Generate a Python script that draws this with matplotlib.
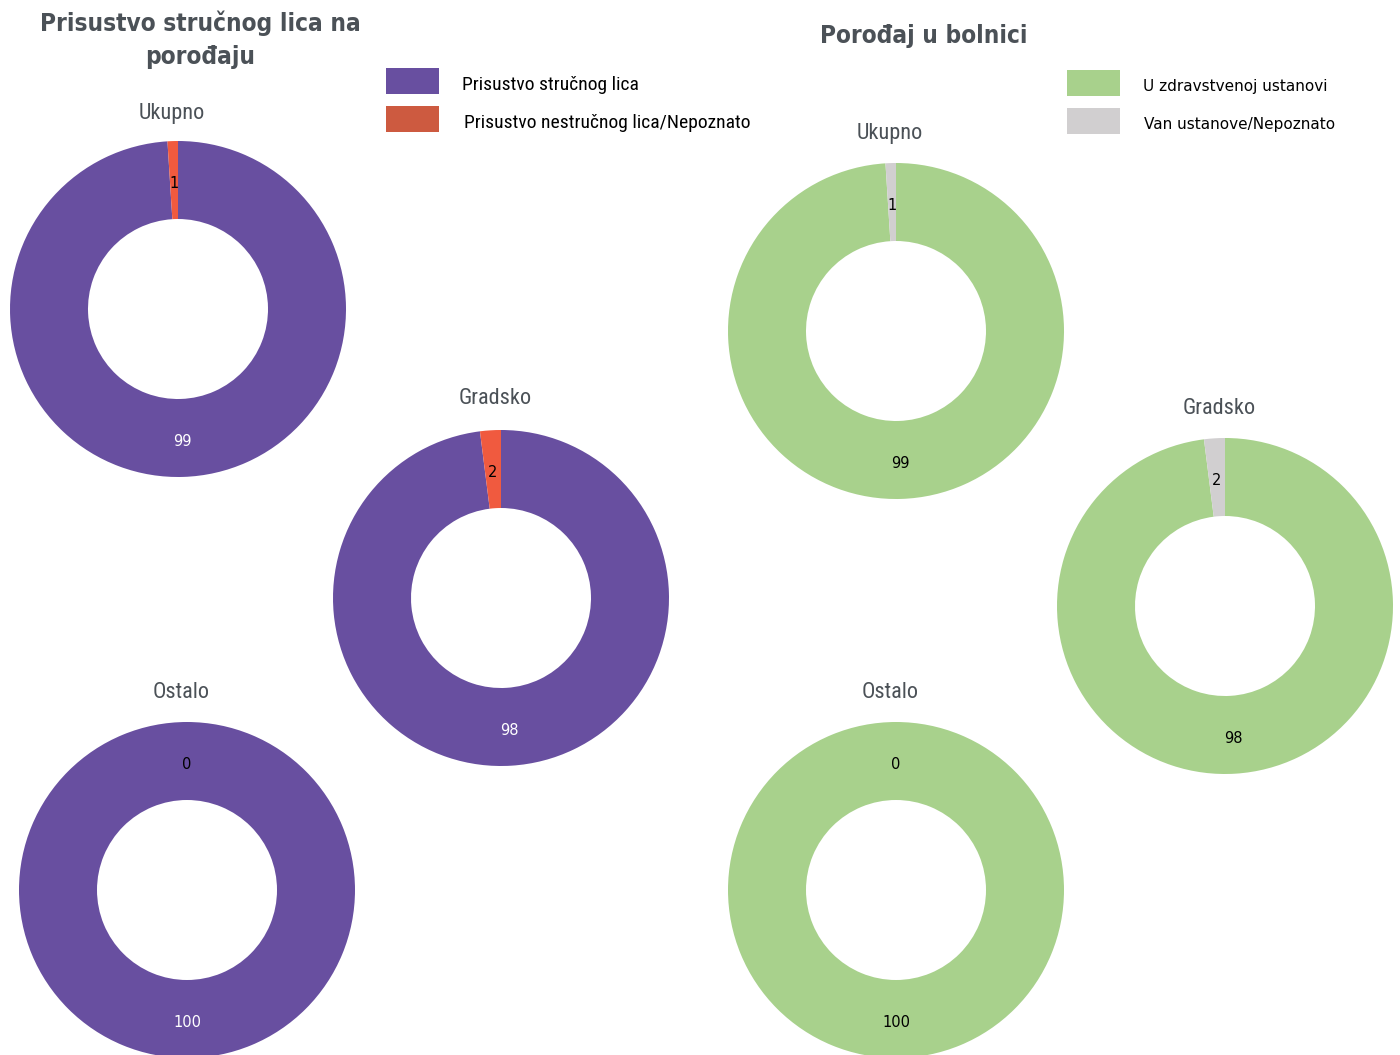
import numpy as np
import matplotlib
matplotlib.use('Agg')
import matplotlib.pyplot as plt
from matplotlib.patches import Rectangle

# podaci
kategorije = ['Ukupno', 'Gradsko', 'Ostalo']
strucno = [99, 98, 100]
nestrucno = [1, 2, 0]
ustanova = [99, 98, 100]
van_ustanove = [1, 2, 0]

legenda_lijevo = ['Prisustvo stručnog lica', 'Prisustvo nestručnog lica/Nepoznato']
legenda_desno = ['U zdravstvenoj ustanovi', 'Van ustanove/Nepoznato']

W, H = 1400, 1055
naslov_boja = '#4b5157'
narrow = ['Roboto Condensed', 'DejaVu Sans']
plain = ['DejaVu Sans']

fig = plt.figure(figsize=(W / 100, H / 100), dpi=100)

# pomocna osa u pikselima za tekst i legendu
bg = fig.add_axes([0, 0, 1, 1])
bg.set_xlim(0, W)
bg.set_ylim(H, 0)
bg.axis('off')

R_OUT = 168
R_IN = 90


def donut(cx, cy, vrijednosti, boje, boje_teksta, naslov, naslov_y):
    ax = fig.add_axes([(cx - R_OUT) / W, 1 - (cy + R_OUT) / H, 2 * R_OUT / W, 2 * R_OUT / H])
    wedges, _ = ax.pie(vrijednosti, colors=boje, startangle=90, counterclock=False,
                       radius=1.0, wedgeprops=dict(width=(R_OUT - R_IN) / R_OUT, linewidth=0))
    ax.set_xlim(-1, 1)
    ax.set_ylim(-1, 1)
    ax.set_aspect('equal')
    ax.axis('off')
    r_lab = (R_OUT + R_IN) / 2 / R_OUT
    for w, v, c in zip(wedges, vrijednosti, boje_teksta):
        ang = np.deg2rad((w.theta1 + w.theta2) / 2)
        ax.text(r_lab * np.cos(ang), r_lab * np.sin(ang) - 0.02, str(v), ha='center', va='center',
                fontsize=10.5, color=c, family=plain)
    bg.text(cx - 6, naslov_y + 1, naslov, ha='center', va='center', fontsize=16,
            color=naslov_boja, family=narrow)


# lijevi grafikon
lijevi_centri = [(178, 309, 113), (501, 598, 398), (187, 890, 692)]
for (cx, cy, ty), kat, a, b in zip(lijevi_centri, kategorije, strucno, nestrucno):
    donut(cx, cy, [a, b], ['#684fa0', '#f05a3f'], ['white', 'black'], kat, ty)

# desni grafikon
desni_centri = [(896, 331, 132), (1225, 606, 407), (896, 890, 692)]
for (cx, cy, ty), kat, a, b in zip(desni_centri, kategorije, ustanova, van_ustanove):
    donut(cx, cy, [a, b], ['#a8d18c', '#d1cfd0'], ['black', 'black'], kat, ty)

# naslovi
bg.text(200, 40, 'Prisustvo stručnog lica na\nporođaju', ha='center', va='center',
        fontsize=17.5, fontweight='bold', fontstretch='condensed', color=naslov_boja,
        family=plain, linespacing=1.45)
bg.text(924, 36, 'Porođaj u bolnici', ha='center', va='center',
        fontsize=17.5, fontweight='bold', fontstretch='condensed', color=naslov_boja,
        family=plain)

# legende
for (x, y, tx, boja, txt) in [(386, 68, 462, '#684fa0', legenda_lijevo[0]),
                              (386, 106, 464, '#cd5a40', legenda_lijevo[1]),
                              (1067, 70, 1143, '#a8d18c', legenda_desno[0]),
                              (1067, 108, 1144, '#d1cfd0', legenda_desno[1])]:
    bg.add_patch(Rectangle((x, y), 53, 26, color=boja, lw=0))
    fam = narrow if x < 1000 else plain
    fs = 14 if x < 1000 else 11
    bg.text(tx, y + 17, txt, ha='left', va='center', fontsize=fs, color='black', family=fam)

fig.savefig('out.png', dpi=100)
